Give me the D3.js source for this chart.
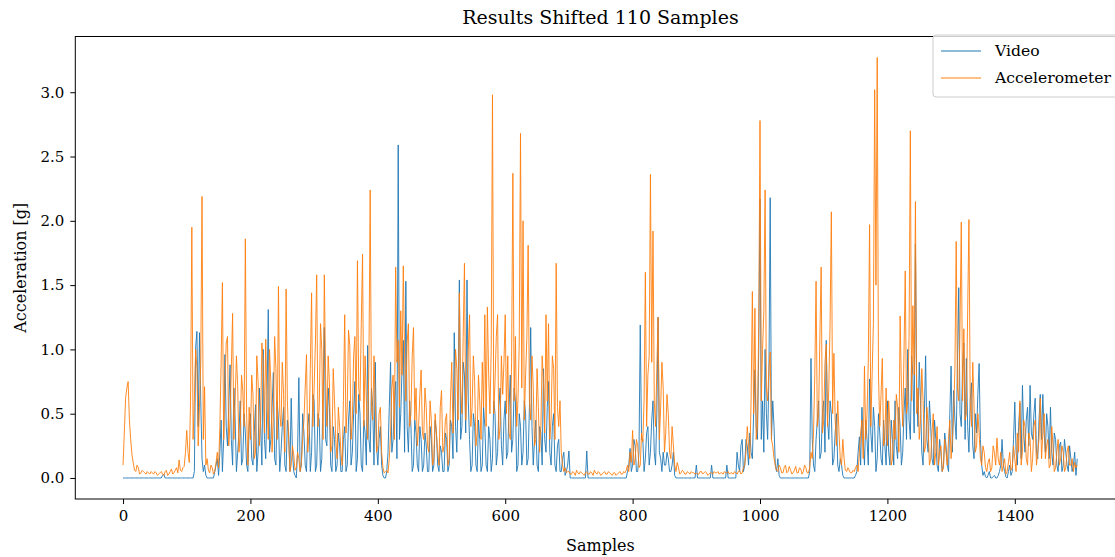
<!DOCTYPE html>
<html>
<head>
<meta charset="utf-8">
<script src="https://cdn.jsdelivr.net/npm/d3@7"></script>
<style>
  body { margin: 0; background: #fff; }
  svg { display: block; font-family: "DejaVu Serif", serif; }
</style>
</head>
<body>
<svg id="chart" width="1115" height="557"></svg>
<script>
// Datos: una muestra cada STEP muestras, 50 valores por cada 100 muestras
var STEP = 2;

var video = [
  0,0,0,0,0,0,0,0,0,0,0,0,0,0,0,0,0,0,0,0,0,0,0,0,0,0,0,0,0,0,0,0.02,0.03,0,0,0,0,0,0,0,0,0,0,0,0,0,0,0,0,0,
  0,0,0,0,0,0,0.05,1.02,1.14,0.40,1.13,0.60,0.15,0.05,0.10,0.02,0,0,0,0,0,0,0.05,0.10,0.15,0.02,0.20,0.45,0.05,0.30,0.96,0.40,0.25,0.55,0.88,0.30,0.10,0.70,0.45,0.05,0.20,0.35,0.60,0.10,0.15,0.50,0.35,0.10,0.05,0.40,
  0.50,0.15,0.10,0.35,0.57,0.05,0.20,0.70,0.40,0.10,1.00,0.30,0.15,0.60,1.31,0.20,0.30,0.55,0.82,0.15,0.10,0.60,0.45,0.05,0.20,0.40,0.55,0.10,0.05,0.45,0.35,0.05,0.62,0.20,0.05,0.02,0,0.20,0.78,0.05,0.10,0.50,0.35,0.10,0.05,0.40,0.50,0.05,0.20,0.65,
  0.60,0.05,0.10,0.50,0.45,0.05,0.15,0.65,1.17,0.30,0.25,0.70,0.55,0.10,0.05,0.40,0.30,0.05,0.10,0.35,0.25,0.05,0.05,0.30,0.40,0.05,0.10,0.45,0.60,0.10,0.20,0.50,0.75,0.05,0.15,0.65,0.50,0.10,0.05,0.45,0.35,0.10,1.03,0.30,0.20,0.70,0.55,0.10,0.90,0.25,
  0.10,0.30,0.40,0.10,0.02,0,0,0.05,0.20,0.55,0.90,0.20,0.30,0.60,0.75,0.15,2.59,0.30,0.50,0.85,1.07,0.20,1.53,0.40,0.20,0.60,0.40,0.05,0.10,0.45,0.35,0.10,0.05,0.40,0.30,0.05,0.10,0.35,0.25,0.05,0.05,0.40,0.30,0.05,0.10,0.45,0.35,0.10,0.05,0.25,
  0.20,0.05,0.05,0.35,0.30,0.05,0.10,0.45,0.40,0.15,1.13,0.40,0.20,0.65,1.54,0.30,0.40,0.90,0.80,0.35,1.54,0.60,0.30,0.05,0.10,0.50,0.40,0.10,0.05,0.45,0.30,0.05,0.10,0.55,0.40,0.10,0.05,0.40,0.30,0.05,0.15,0.60,0.50,0.10,0.20,0.55,0.70,0.25,0.10,0.45,
  0.60,0.15,0.20,0.55,0.80,0.20,0.30,0.70,0.60,0.05,0.10,0.50,0.40,0.10,0.20,0.60,0.50,0.10,0.15,0.55,1.17,0.40,0.10,0.30,0.45,0.10,0.05,0.40,0.35,0.10,0.85,0.30,0.20,0.55,0.75,0.20,0.10,0.40,0.50,0.10,0.05,0.25,0.30,0.05,0.05,0.15,0.20,0.02,0.05,0.10,
  0.21,0,0,0,0,0,0,0,0,0,0,0,0,0,0.21,0,0,0,0,0,0,0,0,0,0,0,0,0,0,0,0,0,0,0,0,0,0,0,0,0,0,0,0,0,0,0,0.05,0.10,0.23,0.05,
  0.10,0.30,0.25,0.05,0.05,0.20,1.19,0.30,0.30,0.05,0.15,0.35,0.40,0.10,0.20,0.45,0.60,0.20,0.10,0.50,1.25,0.20,0.15,0.05,0.20,0.10,0.10,0.20,0.15,0.05,0.05,0.10,0.20,0.02,0,0,0,0,0,0,0,0,0,0,0,0,0,0,0,0,
  0.10,0,0,0,0,0,0,0,0,0,0,0,0.10,0,0,0,0,0,0,0,0,0,0,0,0.10,0,0,0,0,0,0,0,0.20,0.10,0.05,0.25,0.30,0.05,0.10,0.30,0.25,0.10,0.35,0.20,0.15,0.50,0.84,0.40,0.30,1.00,
  2.17,0.30,0.60,0.20,1.00,0.50,0.30,0.80,2.18,0.30,0.60,0.40,0.10,0.05,0.15,0.02,0,0,0,0,0,0,0,0,0,0,0,0,0,0,0,0,0,0,0,0,0,0,0,0.05,0.93,0.30,0.10,0.05,0.30,0.45,0.60,0.15,0.20,0.50,
  0.60,0.20,1.07,0.45,0.30,0.60,0.50,0.10,0.15,0.35,0.50,0.10,0.05,0.15,0.10,0.02,0,0,0,0,0,0,0,0,0,0.02,0.05,0.20,0.32,0.10,0.55,0.30,0.10,0.45,0.30,0.10,0.77,0.35,0.20,0.55,0.40,0.05,0.15,0.50,0.35,0.15,0.10,0.45,0.25,0.10,
  0.60,0.20,0.10,0.45,0.30,0.10,0.60,0.25,0.15,0.55,0.40,0.10,0.20,0.50,0.70,0.30,1.00,0.45,0.30,0.95,0.80,0.35,1.82,0.70,0.40,0.90,0.60,0.20,0.10,0.50,0.95,0.30,0.20,0.60,0.40,0.15,0.10,0.45,0.30,0.10,0.05,0.30,0.20,0.05,0.10,0.35,0.25,0.10,0.05,0.50,
  0.87,0.20,0.68,0.45,0.30,0.90,1.48,0.50,0.40,0.85,1.05,0.30,0.93,0.40,0.20,0.60,0.74,0.25,0.15,0.50,0.35,0.65,0.89,0.30,0.10,0.02,0.05,0.01,0,0.02,0.05,0,0,0.01,0.02,0,0,0.02,0.05,0.10,0.30,0.10,0.05,0.01,0,0.05,0.10,0.02,0.05,0.30,
  0.59,0.20,0.10,0.40,0.58,0.15,0.72,0.35,0.20,0.45,0.55,0.25,0.72,0.35,0.30,0.50,0.62,0.20,0.15,0.45,0.65,0.30,0.65,0.35,0.20,0.50,0.40,0.15,0.55,0.20,0.10,0.35,0.30,0.10,0.05,0.25,0.28,0.05,0.10,0.30,0.20,0.10,0.05,0.25,0.15,0.05,0.10,0.20,0.02,0.15
];

var accel = [
  0.10,0.35,0.62,0.70,0.75,0.45,0.30,0.18,0.12,0.06,0.05,0.10,0.08,0.03,0.04,0.06,0.05,0.04,0.03,0.05,0.04,0.03,0.05,0.04,0.03,0.05,0.04,0.02,0.03,0.04,0.05,0.03,0.02,0.05,0.06,0.02,0.03,0.05,0.07,0.03,0.04,0.06,0.08,0.04,0.14,0.06,0.05,0.08,0.09,0.20,
  0.37,0.20,0.12,0.60,1.95,0.30,0.62,1.00,0.85,0.25,0.55,0.90,2.19,0.30,0.71,0.10,0.15,0.06,0.04,0.10,0.08,0.03,0.05,0.12,0.20,0.08,0.40,0.90,1.52,0.30,0.75,1.05,1.10,0.25,0.45,0.85,1.28,0.30,0.60,0.95,0.72,0.20,0.35,0.80,0.68,0.40,1.86,0.50,0.10,0.55,
  0.30,0.80,0.65,0.15,0.20,0.95,0.75,0.25,0.45,1.05,0.90,0.35,1.08,0.60,0.30,1.00,0.75,0.20,0.50,1.10,0.85,0.30,1.49,0.50,0.40,0.90,0.65,0.20,1.47,0.60,0.30,0.05,0.10,0.25,0.18,0.06,0.08,0.20,0.15,0.05,0.12,0.30,0.45,0.70,0.96,0.20,0.35,0.85,1.44,0.40,
  0.70,1.05,1.58,0.40,0.55,1.20,1.00,0.30,1.58,0.80,0.40,0.95,0.75,0.20,0.25,0.85,0.60,0.30,0.15,0.55,0.40,0.20,0.10,0.60,1.27,0.35,0.55,1.15,1.03,0.30,0.45,0.95,1.10,0.50,1.69,0.70,0.60,1.20,1.74,0.40,0.95,0.60,0.30,0.90,2.24,0.55,0.45,0.95,0.60,0.20,
  0.25,0.50,0.55,0.20,0.08,0.04,0.05,0.06,0.04,0.15,0.35,0.70,0.80,0.30,1.64,0.90,1.07,0.55,1.30,0.80,1.65,0.95,0.60,1.05,1.20,0.40,0.50,0.95,1.17,0.45,0.70,0.25,0.40,0.65,0.84,0.35,0.30,0.70,0.55,0.25,0.20,0.60,0.45,0.10,0.15,0.50,0.35,0.20,0.10,0.55,
  0.68,0.20,0.25,0.45,0.50,0.10,0.15,0.60,0.90,0.35,0.60,1.00,0.85,0.45,1.44,0.70,0.50,1.10,1.67,0.45,0.70,1.00,1.27,0.40,0.55,0.95,0.75,0.25,0.35,0.80,0.60,0.30,0.90,0.55,1.27,0.40,1.33,0.80,0.50,1.00,2.98,0.50,0.75,1.10,1.27,0.30,0.40,0.95,0.65,0.90,
  1.27,0.50,0.95,0.35,0.30,0.90,2.37,0.60,1.10,0.40,0.60,1.05,2.68,0.70,2.00,0.45,0.80,1.10,1.81,0.60,0.45,0.95,0.70,0.25,0.30,0.85,0.55,0.20,0.40,0.95,0.75,0.35,1.27,0.60,1.20,0.30,0.45,0.95,0.85,0.30,1.67,0.55,0.40,0.60,0.20,0.10,0.05,0.08,0.04,0.05,
  0.05,0.03,0.03,0.05,0.04,0.02,0.06,0.04,0.03,0.05,0.04,0.03,0.02,0.04,0.05,0.03,0.03,0.05,0.04,0.02,0.06,0.04,0.03,0.05,0.04,0.02,0.03,0.04,0.05,0.03,0.03,0.05,0.04,0.03,0.02,0.04,0.04,0.02,0.03,0.04,0.05,0.03,0.03,0.05,0.04,0.06,0.10,0.05,0.20,0.12,
  0.37,0.10,0.15,0.30,0.25,0.08,0.10,0.35,0.28,0.60,1.60,0.40,0.80,0.95,2.36,0.90,1.92,0.60,0.40,0.85,1.25,0.30,0.55,0.90,0.70,0.20,0.35,0.65,0.50,0.20,0.15,0.40,0.25,0.10,0.05,0.12,0.08,0.03,0.04,0.06,0.05,0.03,0.03,0.05,0.04,0.03,0.05,0.04,0.04,0.03,
  0.04,0.03,0.03,0.05,0.05,0.03,0.04,0.05,0.04,0.02,0.03,0.04,0.04,0.03,0.05,0.04,0.04,0.05,0.03,0.04,0.04,0.03,0.05,0.04,0.04,0.05,0.03,0.04,0.04,0.03,0.05,0.04,0.03,0.05,0.06,0.03,0.04,0.08,0.10,0.20,0.40,0.25,0.15,0.60,1.45,0.50,1.32,0.30,0.40,1.20,
  2.78,0.60,1.00,1.30,2.24,0.70,0.60,0.85,0.98,0.30,0.25,0.15,0.10,0.06,0.05,0.10,0.08,0.04,0.04,0.08,0.10,0.04,0.05,0.09,0.06,0.03,0.04,0.06,0.09,0.04,0.04,0.08,0.07,0.03,0.05,0.10,0.08,0.04,0.04,0.08,0.20,0.15,0.35,0.80,1.53,0.40,0.50,1.10,1.64,0.35,
  0.45,0.90,1.04,0.40,0.70,1.20,2.07,0.50,0.97,0.45,0.25,0.60,0.35,0.15,0.10,0.30,0.15,0.06,0.05,0.08,0.06,0.04,0.04,0.06,0.05,0.08,0.10,0.05,0.20,0.35,0.45,0.15,0.87,0.30,0.50,0.90,1.97,0.40,0.80,1.20,3.02,1.50,3.27,0.80,0.40,0.65,0.93,0.25,0.30,0.70,
  0.25,0.60,0.40,0.10,0.15,0.45,0.30,0.65,0.55,0.20,1.26,0.70,0.40,0.95,1.61,0.50,0.60,1.10,2.70,0.60,1.34,0.80,2.15,0.50,0.70,0.30,0.45,0.85,0.60,0.20,0.25,0.55,0.40,0.10,0.15,0.35,0.50,0.10,0.20,0.40,0.10,0.20,0.25,0.05,0.08,0.30,0.20,0.10,0.30,0.45,
  0.15,0.30,0.50,0.85,1.84,0.70,0.60,1.20,1.99,0.60,1.16,0.45,0.50,1.30,2.01,0.60,0.40,0.90,0.55,0.20,0.25,0.50,0.35,0.15,0.10,0.25,0.20,0.08,0.05,0.12,0.15,0.05,0.08,0.25,0.20,0.10,0.31,0.15,0.10,0.20,0.05,0.10,0.15,0.03,0.05,0.12,0.20,0.06,0.08,0.25,
  0.15,0.05,0.35,0.20,0.60,0.10,0.20,0.45,0.40,0.15,0.10,0.35,0.30,0.05,0.15,0.40,0.45,0.10,0.20,0.30,0.62,0.15,0.35,0.50,0.15,0.25,0.30,0.08,0.10,0.40,0.25,0.05,0.08,0.20,0.30,0.10,0.15,0.25,0.20,0.05,0.08,0.20,0.25,0.10,0.10,0.15,0.05,0.12,0.08,0.10
];

var xTicks = [0, 200, 400, 600, 800, 1000, 1200, 1400];
var yTicks = [0.0, 0.5, 1.0, 1.5, 2.0, 2.5, 3.0];
var seriesNames = ["Video", "Accelerometer"];
var seriesColors = ["#1f77b4", "#ff7f0e"];

// Area del grafico (el borde derecho queda fuera de la imagen)
var margin = { top: 36.5, left: 75.3 },
  plotRight = 1125.6,
  plotBottom = 499;

var svg = d3.select("#chart");

// Escalas
var x = d3.scaleLinear().domain([-74.95, 1573.95]).range([margin.left, plotRight]);
var y = d3.scaleLinear().domain([-0.1635, 3.4335]).range([plotBottom, margin.top]);

svg.append("defs").append("clipPath").attr("id", "clip")
  .append("rect")
  .attr("x", margin.left).attr("y", margin.top)
  .attr("width", plotRight - margin.left).attr("height", plotBottom - margin.top);

// Lineas
var line = d3.line()
  .x(function (d, i) { return x(i * STEP); })
  .y(function (d) { return y(d); });

var plot = svg.append("g").attr("clip-path", "url(#clip)");
[video, accel].forEach(function (serie, k) {
  plot.append("path")
    .datum(serie)
    .attr("d", line)
    .attr("fill", "none")
    .attr("stroke", seriesColors[k])
    .attr("stroke-width", 0.9)
    .attr("stroke-linejoin", "round");
});

// Ejes
var xAxis = d3.axisBottom(x).tickValues(xTicks).tickSize(5).tickPadding(6).tickFormat(d3.format("d"));
var yAxis = d3.axisLeft(y).tickValues(yTicks).tickSize(5).tickPadding(6).tickFormat(d3.format(".1f"));

var gx = svg.append("g").attr("transform", "translate(0," + plotBottom + ")").call(xAxis);
var gy = svg.append("g").attr("transform", "translate(" + margin.left + ",0)").call(yAxis);

[gx, gy].forEach(function (g) {
  g.select(".domain").remove();
  g.selectAll("line").attr("stroke", "#000").attr("stroke-width", 1);
  g.selectAll("text").attr("fill", "#000").style("font-size", "15px").style("font-family", "DejaVu Serif");
});

// Marco
svg.append("rect")
  .attr("x", margin.left).attr("y", margin.top)
  .attr("width", plotRight - margin.left).attr("height", plotBottom - margin.top)
  .attr("fill", "none").attr("stroke", "#000").attr("stroke-width", 1);

// Titulo y etiquetas
svg.append("text")
  .attr("x", (margin.left + plotRight) / 2).attr("y", 24)
  .attr("text-anchor", "middle").style("font-size", "19px")
  .text("Results Shifted 110 Samples");

svg.append("text")
  .attr("x", (margin.left + plotRight) / 2).attr("y", 551)
  .attr("text-anchor", "middle").style("font-size", "16px")
  .text("Samples");

svg.append("text")
  .attr("transform", "translate(26," + (margin.top + plotBottom) / 2 + ") rotate(-90)")
  .attr("text-anchor", "middle").style("font-size", "16px")
  .text("Acceleration [g]");

// Leyenda
var legend = svg.append("g").attr("transform", "translate(933,35)");
legend.append("rect")
  .attr("width", 220).attr("height", 62).attr("rx", 3)
  .attr("fill", "#fff").attr("fill-opacity", 0.8)
  .attr("stroke", "#ccc").attr("stroke-width", 1);

seriesNames.forEach(function (name, k) {
  var yy = 16 + k * 27;
  legend.append("line")
    .attr("x1", 8).attr("x2", 48).attr("y1", yy).attr("y2", yy)
    .attr("stroke", seriesColors[k]).attr("stroke-width", 1);
  legend.append("text")
    .attr("x", 62).attr("y", yy + 5)
    .style("font-size", "15.6px")
    .text(name);
});
</script>
</body>
</html>
